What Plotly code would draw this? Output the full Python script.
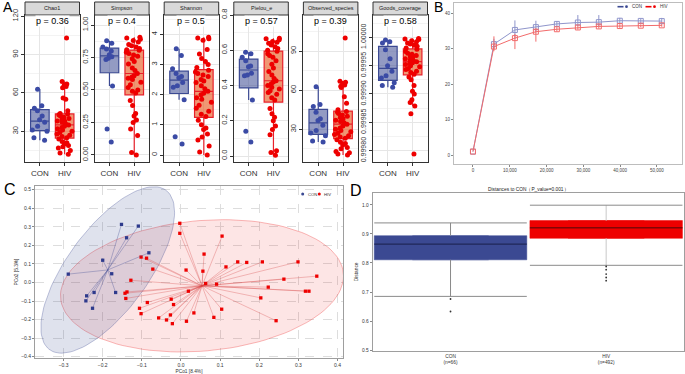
import numpy as np
import plotly.graph_objects as go

W, H = 685, 374
def fx(p): return p / W
def fy(p): return 1 - p / H
FONT = "Liberation Sans, Arial, sans-serif"

# ---------------- Panel A data ----------------
metrics = ["Chao1", "Simpson", "Shannon", "Pielou_e", "Observed_species", "Goods_coverage"]
p_labels = ["p = 0.36", "p = 0.4", "p = 0.5", "p = 0.57", "p = 0.39", "p = 0.58"]
groups = ["CON", "HIV"]

chao1_con = [23, 25, 30, 31, 34, 37, 39, 42, 46, 48, 50, 63]
chao1_hiv = [12, 13, 15, 17, 18, 19, 20, 21, 22, 24, 25, 26, 27, 28, 29, 30, 31, 32, 33, 34,
             35, 36, 37, 38, 38, 39, 40, 41, 42, 43, 43.5, 44, 46, 55, 56, 64, 65, 66, 67, 69, 103]
simpson_con = [0.10, 0.20, 0.53, 0.735, 0.745, 0.755, 0.771, 0.80, 0.815, 0.83, 0.86, 0.878]
simpson_hiv = [0.0, 0.02, 0.15, 0.2, 0.25, 0.27, 0.3, 0.32, 0.38, 0.42, 0.477, 0.49, 0.5, 0.52,
               0.54, 0.56, 0.58, 0.59, 0.6, 0.61, 0.627, 0.65, 0.67, 0.7, 0.72, 0.74, 0.76, 0.77,
               0.78, 0.79, 0.806, 0.81, 0.82, 0.83, 0.84, 0.85, 0.87, 0.88, 0.89, 0.9, 0.905]
shannon_con = [0.37, 0.61, 1.83, 2.25, 2.3, 2.4, 2.56, 2.6, 2.7, 2.86, 3.3, 3.52]
shannon_hiv = [0.0, 0.1, 0.3, 0.5, 0.6, 0.7, 0.85, 0.9, 1.0, 1.15, 1.28, 1.35, 1.45, 1.55, 1.65,
               1.75, 1.85, 1.9, 2.0, 2.05, 2.11, 2.2, 2.3, 2.4, 2.45, 2.5, 2.6, 2.65, 2.7, 2.75,
               2.81, 2.9, 3.0, 3.1, 3.2, 3.35, 3.5, 3.8, 3.85, 3.88, 3.9]
pielou_con = [0.08, 0.14, 0.318, 0.455, 0.46, 0.47, 0.506, 0.51, 0.54, 0.56, 0.58, 0.588]
pielou_hiv = [0.005, 0.02, 0.03, 0.12, 0.15, 0.17, 0.2, 0.22, 0.24, 0.27, 0.318, 0.33, 0.35, 0.36,
              0.37, 0.38, 0.39, 0.4, 0.41, 0.42, 0.427, 0.44, 0.46, 0.48, 0.5, 0.52, 0.54, 0.56,
              0.57, 0.58, 0.594, 0.6, 0.61, 0.62, 0.63, 0.64, 0.645, 0.65, 0.66, 0.665, 0.668]
observed_con = [20.3, 21, 25, 27.2, 29, 33, 36.8, 38, 43, 47.5, 49, 62.6]
observed_hiv = [10.3, 11, 12, 13, 15, 16, 18, 19, 20, 22, 23.1, 24, 25, 26, 27, 28, 29, 30, 31,
                32.5, 33.9, 35, 36, 37, 38, 39, 40, 41, 42, 43, 43.6, 45, 50, 55, 62, 63, 64, 65,
                66, 66.8, 100]
goods_con = [0.999912, 0.999915, 0.999920, 0.999928, 0.999932, 0.999940, 0.999950, 0.999962,
             0.999978, 0.999990, 0.999992, 0.999995]
goods_hiv = [0.999794, 0.999865, 0.999879, 0.999885, 0.999890, 0.999900, 0.999905, 0.999915,
             0.999925, 0.999930, 0.999935, 0.999938, 0.999940, 0.999943, 0.999945, 0.999948,
             0.999950, 0.999952, 0.999954, 0.999955, 0.999957, 0.999958, 0.999960, 0.999962,
             0.999964, 0.999966, 0.999968, 0.999970, 0.999972, 0.999975, 0.999979, 0.999981,
             0.999984, 0.999986, 0.999988, 0.999990, 0.999992, 0.999994, 0.999996, 0.999997,
             0.999998]

a_tickvals = [[30, 60, 90, 120], [0, 0.25, 0.5, 0.75, 1.0], [0, 1, 2, 3, 4],
              [0.0, 0.2, 0.4, 0.6, 0.8], [30, 60, 90],
              [0.9998, 0.99985, 0.9999, 0.99995, 1.0]]
a_ticktext = [["30", "60", "90", "120"], ["0.00", "0.25", "0.50", "0.75", "1.00"],
              ["0", "1", "2", "3", "4"], ["0.0", "0.2", "0.4", "0.6", "0.8"],
              ["30", "60", "90"], ["0.99980", "0.99985", "0.99990", "0.99995", "1.00000"]]

# ---------------- Panel B data ----------------
depths = [1, 5700, 11400, 17100, 22800, 28500, 34200, 39900, 45600, 51300]
con_mean = [1.0, 31.3, 35.3, 36.1, 37.0, 37.4, 37.5, 37.9, 37.85, 37.8]
con_up = [0, 1.5, 2.7, 1.8, 0.8, 2.1, 2.0, 0.8, 0.6, 0.9]
con_dn = [0, 1.5, 2.6, 1.5, 0.8, 1.0, 1.0, 0.6, 0.6, 0.6]
hiv_mean = [1.0, 30.6, 33.0, 34.8, 35.5, 36.0, 36.3, 36.4, 36.5, 36.6]
hiv_up = [0, 2.9, 1.2, 1.0, 0.6, 0.6, 0.6, 0.5, 0.4, 0.4]
hiv_dn = [0, 1.3, 3.1, 2.8, 0.6, 0.6, 0.6, 0.5, 0.4, 0.4]

# ---------------- Panel C data ----------------
con_pc1 = [-0.288, -0.152, -0.109, -0.139, -0.082, -0.200, -0.177, -0.167, -0.222, -0.241, -0.243, -0.226]
con_pc2 = [0.045, 0.313, 0.304, 0.241, 0.160, 0.120, 0.047, -0.054, -0.054, -0.072, -0.099, -0.139]
hiv_pc1 = [-0.003, -0.003, 0.105, 0.059, -0.102, -0.088, -0.072, 0.013, 0.056, 0.115, 0.145,
           -0.128, 0.063, 0.091, 0.019, -0.138, -0.143, -0.141, -0.086, -0.025, -0.019, -0.106,
           -0.102, 0.104, -0.057, -0.037, -0.027, -0.022, 0.033, 0.014, 0.084, 0.168, 0.208,
           0.299, 0.347, 0.263, 0.223, 0.318, 0.327, 0.204, 0.243]
hiv_pc2 = [0.319, 0.265, 0.250, 0.153, 0.137, 0.131, 0.072, 0.067, 0.061, 0.084, 0.111,
           0.012, -0.005, -0.009, -0.047, -0.051, -0.058, -0.086, -0.108, -0.090, -0.119, -0.139,
           -0.168, -0.144, -0.191, -0.202, -0.175, -0.222, -0.164, -0.209, -0.188, 0.108, 0.111,
           0.111, 0.034, 0.018, -0.025, -0.047, -0.047, -0.083, -0.206]

# ---------------- Panel D data ----------------
d_groups = ["CON", "HIV"]
d_n = [66, 492]
d_q1 = [0.811, 0.885]
d_med = [0.865, 0.921]
d_q3 = [0.894, 0.946]
d_lo = [0.685, 0.792]
d_hi = [0.938, 0.999]
d_out = [[0.676, 0.633], [0.788, 0.777, 0.762, 0.750, 0.739]]

# colours
CON_PT, HIV_PT = "#3B4BA5", "#EE0000"
CON_BOX_LINE, HIV_BOX_LINE = "#3B4992", "#E8202A"
CON_FILL, HIV_FILL = "rgba(59,73,146,0.55)", "rgba(232,95,40,0.65)"

fig = go.Figure()
layout = dict(width=W, height=H, margin=dict(l=0, r=0, t=0, b=0, autoexpand=False),
              paper_bgcolor="white", plot_bgcolor="white", showlegend=False,
              font=dict(family=FONT), boxmode="overlay")
annotations, shapes = [], []

# ---------------- Panel A ----------------
a_data = [(chao1_con, chao1_hiv), (simpson_con, simpson_hiv), (shannon_con, shannon_hiv),
          (pielou_con, pielou_hiv), (observed_con, observed_hiv), (goods_con, goods_hiv)]
a_ranges = [[6, 121], [-0.054, 1.077], [-0.23, 4.64], [-0.034, 0.80], [4.9, 117.6],
            [0.99978, 1.0000393]]
a_minor = [15, 0.125, 0.5, 0.1, 15, 0.000025]
a_tfs = [7.5, 7.5, 7.5, 7.5, 7.5, 7]
pw = 54.5
top, bot = 15, 162
for i in range(6):
    k = "" if i == 0 else str(i + 1)
    x0 = 25 + 69.6 * i
    layout["xaxis" + k] = dict(domain=[fx(x0), fx(x0 + pw)], anchor="y" + k, automargin=False,
                               type="category", categoryorder="array", categoryarray=groups,
                               range=[-0.6, 1.6], showline=True, mirror=True, linecolor="#333333",
                               linewidth=1, showgrid=True, gridcolor="#E6E6E6", gridwidth=1,
                               ticks="outside", ticklen=3, tickcolor="#333333",
                               tickfont=dict(size=8, color="#333333"), zeroline=False)
    layout["yaxis" + k] = dict(domain=[fy(bot), fy(top)], anchor="x" + k, range=a_ranges[i],
                               automargin=False,
                               tickmode="array", tickvals=a_tickvals[i], ticktext=a_ticktext[i],
                               tickangle=-90, showline=True, mirror=True, linecolor="#333333",
                               linewidth=1, showgrid=True, gridcolor="#E6E6E6", gridwidth=1,
                               minor=dict(dtick=a_minor[i], tick0=0, showgrid=True,
                                          gridcolor="#F3F3F3", gridwidth=0.6),
                               ticks="outside", ticklen=3, tickcolor="#333333",
                               tickfont=dict(size=a_tfs[i], color="#333333"), zeroline=False)
    con, hiv = a_data[i]
    for g, vals, fill, lc, pc in [("CON", con, CON_FILL, CON_BOX_LINE, CON_PT),
                                  ("HIV", hiv, HIV_FILL, HIV_BOX_LINE, HIV_PT)]:
        fig.add_trace(go.Box(x=[g] * len(vals), y=vals, xaxis="x" + k, yaxis="y" + k,
                             boxpoints="all", jitter=1, pointpos=0, width=0.75, whiskerwidth=0,
                             fillcolor=fill, line=dict(color=lc, width=1.2),
                             marker=dict(color=pc, size=5), hoverinfo="skip"))
    shapes.append(dict(type="rect", xref="paper", yref="paper", x0=fx(x0), x1=fx(x0 + pw),
                       y0=fy(top), y1=fy(2), fillcolor="#D9D9D9",
                       line=dict(color="#333333", width=1), layer="above"))
    annotations.append(dict(text=metrics[i], x=fx(x0 + pw / 2), y=fy(8.5), xref="paper",
                            yref="paper", showarrow=False, font=dict(size=5.5, color="#1A1A1A"),
                            xanchor="center", yanchor="middle"))
    annotations.append(dict(text=p_labels[i], x=0.5, y=(bot - 20.5) / (bot - top),
                            xref="x" + k + " domain", yref="y" + k + " domain", showarrow=False,
                            font=dict(size=9, color="black"), xanchor="center",
                            yanchor="middle", bgcolor="white", borderpad=0))

# ---------------- Panel B ----------------
layout["xaxis7"] = dict(domain=[fx(454), fx(682)], anchor="y7", range=[-5150, 56800],
                        automargin=False,
                        tickvals=[0, 10000, 20000, 30000, 40000, 50000], tickformat=",",
                        showline=True, mirror=True, linecolor="#BDBDBD", linewidth=1,
                        showgrid=False, zeroline=False, ticks="outside", ticklen=2,
                        tickcolor="#888888", tickfont=dict(size=4.5, color="#444444"))
layout["yaxis7"] = dict(domain=[fy(164), fy(3)], anchor="x7", range=[-2.5, 42.9],
                        automargin=False,
                        tickvals=[0, 10, 20, 30, 40], showline=True, mirror=True,
                        linecolor="#BDBDBD", linewidth=1, showgrid=False, zeroline=False,
                        ticks="outside", ticklen=2, tickcolor="#888888",
                        tickfont=dict(size=4.5, color="#444444"))
B_CON, B_HIV = "#8F95CB", "#F26B6B"
for mean, up, dn, col in [(con_mean, con_up, con_dn, B_CON), (hiv_mean, hiv_up, hiv_dn, B_HIV)]:
    fig.add_trace(go.Scatter(x=depths, y=mean, xaxis="x7", yaxis="y7", mode="lines+markers",
                             line=dict(color=col, width=1),
                             marker=dict(symbol="square-open", size=5, color=col,
                                         line=dict(width=1, color=col)),
                             error_y=dict(type="data", array=up, arrayminus=dn, color=col,
                                          thickness=1, width=0),
                             hoverinfo="skip"))
# legend B
for (lx, col, txt) in [(617.5, "#3B4992", "CON"), (645.5, "#EE0000", "HIV")]:
    shapes.append(dict(type="line", xref="paper", yref="paper", x0=fx(lx), x1=fx(lx + 6),
                       y0=fy(6.7), y1=fy(6.7), line=dict(color=col, width=1.6)))
    shapes.append(dict(type="circle", xref="paper", yref="paper", x0=fx(lx + 7.6),
                       x1=fx(lx + 10.4), y0=fy(8.1), y1=fy(5.3), fillcolor=col,
                       line=dict(color=col, width=0)))
    annotations.append(dict(text=txt, x=fx(lx + 12.5), y=fy(6.7), xref="paper", yref="paper",
                            showarrow=False, font=dict(size=4.5, color="#333333"),
                            xanchor="left", yanchor="middle"))

# ---------------- Panel C ----------------
def ellipse(xs, ys, level=0.95, npts=120):
    pts = np.column_stack([xs, ys])
    dfd = len(pts) - 1
    c = pts.mean(axis=0)
    cov = np.cov(pts.T)
    fq = (dfd / 2) * ((1 - level) ** (-2 / dfd) - 1)
    r = np.sqrt(2 * fq)
    L = np.linalg.cholesky(cov)
    t = np.linspace(0, 2 * np.pi, npts)
    circ = np.column_stack([np.cos(t), np.sin(t)])
    e = c + r * circ @ L.T
    return e[:, 0], e[:, 1]

layout["xaxis8"] = dict(domain=[fx(35), fx(343)], anchor="y8", range=[-0.373, 0.414],
                        automargin=False,
                        tickvals=[-0.3, -0.2, -0.1, 0.0, 0.1, 0.2, 0.3, 0.4], tickformat=".1f",
                        showline=True, mirror=True, linecolor="#9E9E9E", linewidth=1,
                        showgrid=True, gridcolor="#DDDDDD", griddash="dash", gridwidth=0.7,
                        zeroline=False, ticks="outside", ticklen=2, tickcolor="#888888",
                        tickfont=dict(size=5, color="#333333"),
                        title=dict(text="PCo1 [8.4%]", font=dict(size=4.8, color="#333333"),
                                   standoff=4))
layout["yaxis8"] = dict(domain=[fy(358), fy(186)], anchor="x8", range=[-0.407, 0.52],
                        automargin=False,
                        tickvals=[-0.4, -0.3, -0.2, -0.1, 0.0, 0.1, 0.2, 0.3, 0.4, 0.5],
                        tickformat=".1f", showline=True, mirror=True, linecolor="#9E9E9E",
                        linewidth=1, showgrid=True, gridcolor="#DDDDDD", griddash="dash",
                        gridwidth=0.7, zeroline=False, ticks="outside", ticklen=2,
                        tickcolor="#888888", tickfont=dict(size=5, color="#333333"),
                        title=dict(text="PCo2 [5.3%]", font=dict(size=4.8, color="#333333"),
                                   standoff=2))
for xs, ys, fill, eline in [(hiv_pc1, hiv_pc2, "rgba(238,0,0,0.10)", "rgba(238,60,60,0.45)"),
                            (con_pc1, con_pc2, "rgba(59,73,146,0.16)", "rgba(59,73,146,0.40)")]:
    ex, ey = ellipse(xs, ys)
    fig.add_trace(go.Scatter(x=ex, y=ey, xaxis="x8", yaxis="y8", mode="lines", fill="toself",
                             fillcolor=fill, line=dict(color=eline, width=0.8),
                             hoverinfo="skip"))
for xs, ys, lc, pc in [(hiv_pc1, hiv_pc2, "rgba(215,70,70,0.55)", HIV_PT),
                       (con_pc1, con_pc2, "rgba(70,80,150,0.6)", "#2E3A8C")]:
    cx, cy = float(np.mean(xs)), float(np.mean(ys))
    sx, sy = [], []
    for a, b in zip(xs, ys):
        sx += [cx, a, None]
        sy += [cy, b, None]
    fig.add_trace(go.Scatter(x=sx, y=sy, xaxis="x8", yaxis="y8", mode="lines",
                             line=dict(color=lc, width=0.6), hoverinfo="skip"))
    fig.add_trace(go.Scatter(x=xs, y=ys, xaxis="x8", yaxis="y8", mode="markers",
                             marker=dict(symbol="square", size=3.3, color=pc), hoverinfo="skip"))
# legend C
for (lx, col, txt) in [(302.7, "#3B4992", "CON"), (319.3, "#EE0000", "HIV")]:
    shapes.append(dict(type="circle", xref="paper", yref="paper", x0=fx(lx - 1.5),
                       x1=fx(lx + 1.5), y0=fy(195.5), y1=fy(192.5), fillcolor=col,
                       line=dict(color=col, width=0)))
    annotations.append(dict(text=txt, x=fx(lx + 3), y=fy(194), xref="paper", yref="paper",
                            showarrow=False, font=dict(size=4.2, color="#333333"),
                            xanchor="left", yanchor="middle"))

# ---------------- Panel D ----------------
d_pos = [1, 2]
layout["xaxis9"] = dict(domain=[fx(372.7), fx(684)], anchor="y9", range=[0.5, 2.5],
                        automargin=False, tickvals=d_pos,
                        ticktext=[f"{g}<br>(n={n})" for g, n in zip(d_groups, d_n)],
                        showline=True, mirror=True, linecolor="#9E9E9E", linewidth=1,
                        showgrid=False, zeroline=False, ticks="",
                        tickfont=dict(size=4.8, color="#333333"))
layout["yaxis9"] = dict(domain=[fy(351), fy(192.7)], anchor="x9", range=[0.497, 1.042],
                        automargin=False,
                        tickvals=[0.5, 0.6, 0.7, 0.8, 0.9, 1.0], tickformat=".1f",
                        showline=True, mirror=True, linecolor="#9E9E9E", linewidth=1,
                        showgrid=False, zeroline=False, ticks="outside", ticklen=2,
                        tickcolor="#888888", tickfont=dict(size=4.8, color="#333333"),
                        title=dict(text="Distance", font=dict(size=4.8, color="#333333"),
                                   standoff=3))
d_fill = ["#3B4992", "#EE0000"]
d_medc = ["#1B1F4A", "#4A0A0A"]
d_whc = ["#8A8A8A", "#C8C8C8"]
hw = 0.49
for j in range(2):
    p = d_pos[j]
    fig.add_trace(go.Box(x=[p], q1=[d_q1[j]], median=[d_med[j]], q3=[d_q3[j]],
                         lowerfence=[d_q1[j]], upperfence=[d_q3[j]], xaxis="x9", yaxis="y9",
                         width=0.98, fillcolor=d_fill[j], line=dict(color=d_fill[j], width=0.5),
                         boxpoints=False, hoverinfo="skip"))
    fig.add_trace(go.Scatter(x=[p, p, None, p, p], y=[d_q3[j], d_hi[j], None, d_lo[j], d_q1[j]],
                             xaxis="x9", yaxis="y9", mode="lines",
                             line=dict(color=d_whc[j], width=1), hoverinfo="skip"))
    fig.add_trace(go.Scatter(x=[p - hw, p + hw, None, p - hw, p + hw],
                             y=[d_hi[j], d_hi[j], None, d_lo[j], d_lo[j]],
                             xaxis="x9", yaxis="y9", mode="lines",
                             line=dict(color="#8A8A8A", width=1), hoverinfo="skip"))
    fig.add_trace(go.Scatter(x=[p - hw, p + hw], y=[d_med[j], d_med[j]], xaxis="x9", yaxis="y9",
                             mode="lines", line=dict(color=d_medc[j], width=1),
                             hoverinfo="skip"))
    fig.add_trace(go.Scatter(x=[p] * len(d_out[j]), y=d_out[j], xaxis="x9", yaxis="y9",
                             mode="markers", marker=dict(size=1.8, color="#333333"),
                             hoverinfo="skip"))
annotations.append(dict(text="Distances to CON（P_value=0.001）", x=fx(528.3), y=fy(189),
                        xref="paper", yref="paper", showarrow=False,
                        font=dict(size=4.8, color="#222222"), xanchor="center",
                        yanchor="middle"))

# ---------------- Panel letters ----------------
for txt, lx, ly, sz in [("A", 0.5, 7, 14), ("B", 432.5, 7, 14), ("C", 1.5, 189.5, 16),
                        ("D", 347.5, 190, 16)]:
    annotations.append(dict(text=txt, x=fx(lx), y=fy(ly), xref="paper", yref="paper",
                            showarrow=False, font=dict(size=sz, color="black"),
                            xanchor="left", yanchor="middle"))

layout["annotations"] = annotations
layout["shapes"] = shapes
fig.update_layout(**layout)
fig.write_html("out.html", config={"displayModeBar": False},
               post_script="document.body.style.margin='0';")
